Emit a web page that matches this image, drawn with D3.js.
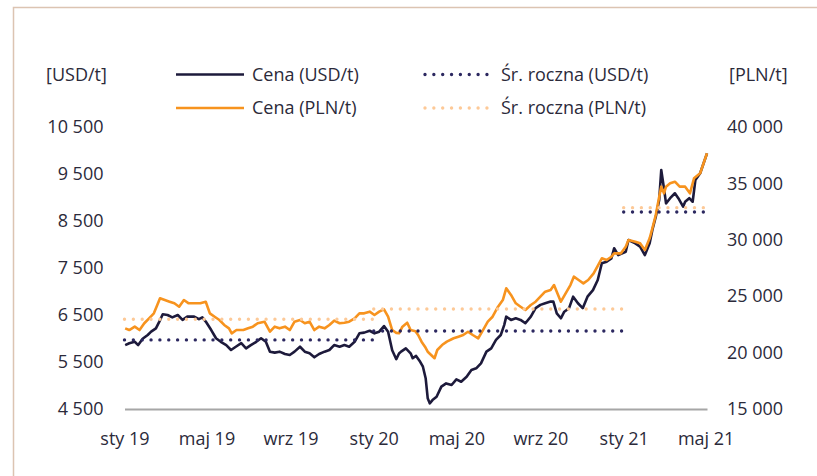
<!DOCTYPE html>
<html>
<head>
<meta charset="utf-8">
<script src="https://cdn.jsdelivr.net/npm/d3@7"></script>
<style>
  body { margin: 0; background: #fff; }
  svg { display: block; font-family: "Open Sans", sans-serif; }
</style>
</head>
<body>
<svg id="chart"></svg>
<script>
// copper price (roughly weekly)
const usdPrice = [
  ["2019-01-02", 5860], ["2019-01-08", 5900], ["2019-01-16", 5930], ["2019-01-21", 5860],
  ["2019-01-28", 6000], ["2019-02-04", 6075], ["2019-02-09", 6145], ["2019-02-16", 6215],
  ["2019-02-21", 6360], ["2019-02-26", 6515], ["2019-03-05", 6500], ["2019-03-12", 6450],
  ["2019-03-20", 6500], ["2019-03-27", 6395], ["2019-04-03", 6465], ["2019-04-13", 6465],
  ["2019-04-20", 6410], ["2019-04-25", 6450], ["2019-04-30", 6360], ["2019-05-08", 6180],
  ["2019-05-15", 6005], ["2019-05-22", 5930], ["2019-05-30", 5860], ["2019-06-06", 5755],
  ["2019-06-13", 5825], ["2019-06-21", 5900], ["2019-06-28", 5790], ["2019-07-05", 5860],
  ["2019-07-13", 5930], ["2019-07-20", 6005], ["2019-07-27", 5930], ["2019-08-02", 5720],
  ["2019-08-09", 5700], ["2019-08-16", 5720], ["2019-08-24", 5670], ["2019-08-31", 5650],
  ["2019-09-07", 5720], ["2019-09-15", 5825], ["2019-09-22", 5720], ["2019-09-29", 5685],
  ["2019-10-06", 5600], ["2019-10-13", 5670], ["2019-10-21", 5720], ["2019-10-28", 5755],
  ["2019-11-04", 5860], ["2019-11-12", 5825], ["2019-11-19", 5860], ["2019-11-26", 5825],
  ["2019-12-04", 5930], ["2019-12-11", 6110], ["2019-12-18", 6125], ["2019-12-26", 6165],
  ["2020-01-02", 6110], ["2020-01-09", 6145], ["2020-01-16", 6265], ["2020-01-22", 6145],
  ["2020-01-28", 5750], ["2020-02-03", 5560], ["2020-02-07", 5680], ["2020-02-10", 5720],
  ["2020-02-17", 5790], ["2020-02-24", 5685], ["2020-02-27", 5580], ["2020-03-03", 5630],
  ["2020-03-09", 5505], ["2020-03-13", 5400], ["2020-03-17", 5155], ["2020-03-20", 4730],
  ["2020-03-23", 4620], ["2020-03-27", 4690], ["2020-04-02", 4760], ["2020-04-09", 4975],
  ["2020-04-16", 5045], ["2020-04-24", 5010], ["2020-05-01", 5130], ["2020-05-08", 5080],
  ["2020-05-16", 5185], ["2020-05-23", 5330], ["2020-05-30", 5365], ["2020-06-06", 5470],
  ["2020-06-14", 5720], ["2020-06-21", 5790], ["2020-06-28", 5970], ["2020-07-05", 6075],
  ["2020-07-10", 6285], ["2020-07-13", 6465], ["2020-07-20", 6395], ["2020-07-27", 6430],
  ["2020-08-03", 6395], ["2020-08-10", 6325], ["2020-08-18", 6465], ["2020-08-25", 6645],
  ["2020-09-01", 6715], ["2020-09-08", 6750], ["2020-09-16", 6785], ["2020-09-20", 6785],
  ["2020-09-25", 6535], ["2020-10-01", 6430], ["2020-10-06", 6570], ["2020-10-13", 6645],
  ["2020-10-19", 6890], ["2020-10-26", 6750], ["2020-11-02", 6645], ["2020-11-09", 6890],
  ["2020-11-17", 7030], ["2020-11-24", 7245], ["2020-11-30", 7600], ["2020-12-07", 7635],
  ["2020-12-14", 7705], ["2020-12-18", 7920], ["2020-12-24", 7775], ["2021-01-04", 7845],
  ["2021-01-08", 8095], ["2021-01-18", 8025], ["2021-01-25", 7955], ["2021-02-01", 7775],
  ["2021-02-08", 8025], ["2021-02-12", 8310], ["2021-02-17", 8590], ["2021-02-22", 8945],
  ["2021-02-25", 9585], ["2021-03-01", 9195], ["2021-03-04", 8875], ["2021-03-10", 8985],
  ["2021-03-17", 9090], ["2021-03-22", 8985], ["2021-03-29", 8805], ["2021-04-01", 8910],
  ["2021-04-07", 8985], ["2021-04-12", 8910], ["2021-04-16", 9375], ["2021-04-23", 9515],
  ["2021-05-03", 9940]
]

const plnPrice = [
  ["2019-01-02", 22150], ["2019-01-08", 22000], ["2019-01-16", 22300], ["2019-01-23", 22000],
  ["2019-01-30", 22600], ["2019-02-06", 23040], ["2019-02-13", 23480], ["2019-02-18", 24220],
  ["2019-02-22", 24810], ["2019-03-01", 24660], ["2019-03-08", 24510], ["2019-03-15", 24370],
  ["2019-03-22", 24070], ["2019-03-29", 24660], ["2019-04-05", 24370], ["2019-04-15", 24370],
  ["2019-04-22", 24370], ["2019-04-30", 24510], ["2019-05-06", 23480], ["2019-05-13", 23180],
  ["2019-05-20", 22890], ["2019-05-27", 22450], ["2019-06-03", 22150], ["2019-06-07", 21710],
  ["2019-06-14", 22000], ["2019-06-24", 22000], ["2019-07-01", 22150], ["2019-07-08", 22300],
  ["2019-07-15", 22600], ["2019-07-25", 22740], ["2019-08-02", 21850], ["2019-08-09", 22300],
  ["2019-08-16", 22150], ["2019-08-24", 22300], ["2019-08-31", 22000], ["2019-09-07", 22740],
  ["2019-09-15", 22890], ["2019-09-22", 22600], ["2019-09-29", 22740], ["2019-10-06", 22000],
  ["2019-10-13", 22300], ["2019-10-21", 22150], ["2019-10-28", 22450], ["2019-11-04", 22830],
  ["2019-11-12", 22600], ["2019-11-19", 22650], ["2019-11-26", 22740], ["2019-12-04", 23040],
  ["2019-12-11", 23480], ["2019-12-18", 23480], ["2019-12-26", 23630], ["2020-01-02", 23330],
  ["2020-01-09", 23630], ["2020-01-16", 23840], ["2020-01-22", 23180], ["2020-01-28", 22000],
  ["2020-02-03", 21750], ["2020-02-07", 21710], ["2020-02-12", 22300], ["2020-02-19", 22650],
  ["2020-02-24", 22000], ["2020-03-02", 21900], ["2020-03-06", 21560], ["2020-03-11", 20970],
  ["2020-03-16", 20520], ["2020-03-20", 20080], ["2020-03-25", 19790], ["2020-03-30", 19500],
  ["2020-04-03", 20230], ["2020-04-10", 20670], ["2020-04-17", 20970], ["2020-04-27", 21270],
  ["2020-05-04", 21410], ["2020-05-11", 21560], ["2020-05-18", 21850], ["2020-05-25", 21560],
  ["2020-06-02", 21270], ["2020-06-09", 22000], ["2020-06-16", 22740], ["2020-06-23", 23180],
  ["2020-07-01", 24070], ["2020-07-08", 24660], ["2020-07-13", 25700], ["2020-07-20", 25110],
  ["2020-07-27", 24370], ["2020-08-03", 24070], ["2020-08-10", 23780], ["2020-08-18", 24220],
  ["2020-08-25", 24510], ["2020-09-01", 24960], ["2020-09-08", 25400], ["2020-09-16", 25550],
  ["2020-09-21", 25990], ["2020-09-25", 25400], ["2020-10-01", 24510], ["2020-10-08", 25260],
  ["2020-10-15", 25990], ["2020-10-20", 26730], ["2020-10-27", 26440], ["2020-11-03", 26140],
  ["2020-11-10", 26440], ["2020-11-18", 27030], ["2020-11-30", 28360], ["2020-12-07", 28210],
  ["2020-12-14", 28500], ["2020-12-18", 28800], ["2020-12-28", 28800], ["2021-01-04", 29390],
  ["2021-01-08", 29980], ["2021-01-18", 29830], ["2021-01-25", 29690], ["2021-02-01", 29100],
  ["2021-02-08", 30130], ["2021-02-12", 31020], ["2021-02-17", 32200], ["2021-02-22", 33820],
  ["2021-02-25", 34710], ["2021-03-01", 34120], ["2021-03-04", 34710], ["2021-03-10", 35010],
  ["2021-03-17", 35150], ["2021-03-24", 34710], ["2021-04-01", 34710], ["2021-04-08", 34120],
  ["2021-04-14", 35450], ["2021-04-23", 35900], ["2021-05-03", 37670]
]

// yearly averages
const avgPeriods = [["2019-01-01", "2019-12-31"], ["2020-01-01", "2020-12-31"], ["2021-01-01", "2021-05-03"]]
const usdAvg = [5970, 6160, 8690]
const plnAvg = [22950, 23870, 32850]

const xTickDates = ["2019-01-01", "2019-05-01", "2019-09-01", "2020-01-01", "2020-05-01", "2020-09-01", "2021-01-01", "2021-05-01"]
const xTickLabels = ["sty 19", "maj 19", "wrz 19", "sty 20", "maj 20", "wrz 20", "sty 21", "maj 21"]
const usdTicks = [4500, 5500, 6500, 7500, 8500, 9500, 10500]
const plnTicks = [15000, 20000, 25000, 30000, 35000, 40000]

const legendLabels = ["Cena (USD/t)", "Cena (PLN/t)", "Śr. roczna (USD/t)", "Śr. roczna (PLN/t)"]

const navy = "#1d1a3b"
const orange = "#f7931e"
const navyDots = "#2c2860"
const orangeDots = "#fdc997"
const textColor = "#2b2a3a"

const width = 817
const height = 476

const parse = d3.timeParse("%Y-%m-%d")
const fmt = d3.formatLocale({decimal: ",", thousands: " ", grouping: [3], currency: ["", ""]}).format(",d")

const svg = d3.select("svg#chart")
    .attr("viewBox", `0 0 ${width} ${height}`)
    .attr("width", width)
    .attr("height", height)

// frame (only top and left edge are visible)
svg.append("path")
    .attr("d", `M13.5,${height} V7.5 H${width}`)
    .attr("fill", "none")
    .attr("stroke", "#dcc4b2")
    .attr("stroke-width", 1.5)

const x = d3.scaleTime()
    .domain([parse("2019-01-01"), parse("2021-05-03")])
    .range([124.5, 707])

const yUsd = d3.scaleLinear()
    .domain([4500, 10500])
    .range([409, 127])

const yPln = d3.scaleLinear()
    .domain([15000, 40000])
    .range([409, 127])

const styleText = g => g
    .attr("font-family", null)
    .attr("font-size", 18)
    .call(g => g.selectAll("text").attr("fill", textColor))

svg.append("g")
    .attr("transform", "translate(0,409)")
    .call(d3.axisBottom(x)
      .tickValues(xTickDates.map(parse))
      .tickFormat((d, i) => xTickLabels[i])
      .tickSize(0).tickSizeOuter(0).tickPadding(23))
    .call(g => g.select(".domain").attr("stroke", "#a6a6a6").attr("stroke-width", 2))
    .call(styleText)

svg.append("g")
    .attr("transform", "translate(124.5,0)")
    .call(d3.axisLeft(yUsd).tickValues(usdTicks).tickFormat(fmt).tickSize(0).tickPadding(21))
    .call(g => g.select(".domain").remove())
    .call(styleText)

svg.append("g")
    .attr("transform", "translate(707,0)")
    .call(d3.axisRight(yPln).tickValues(plnTicks).tickFormat(fmt).tickSize(0).tickPadding(20))
    .call(g => g.select(".domain").remove())
    .call(styleText)

// unit labels
svg.append("text")
    .attr("x", 46).attr("y", 75).attr("dy", "0.35em")
    .attr("font-size", 18).attr("fill", textColor)
    .text("[USD/t]")

svg.append("text")
    .attr("x", 729).attr("y", 75).attr("dy", "0.35em")
    .attr("font-size", 18).attr("fill", textColor)
    .text("[PLN/t]")

// price lines
const usdLine = d3.line()
    .x(d => x(parse(d[0])))
    .y(d => yUsd(d[1]))

const plnLine = d3.line()
    .x(d => x(parse(d[0])))
    .y(d => yPln(d[1]))

svg.append("path")
    .attr("d", usdLine(usdPrice))
    .attr("fill", "none")
    .attr("stroke", navy)
    .attr("stroke-width", 2.6)
    .attr("stroke-linejoin", "round")

svg.append("path")
    .attr("d", plnLine(plnPrice))
    .attr("fill", "none")
    .attr("stroke", orange)
    .attr("stroke-width", 2.6)
    .attr("stroke-linejoin", "round")

// yearly average, dotted
const dotted = (sel, color) => sel
    .attr("fill", "none")
    .attr("stroke", color)
    .attr("stroke-width", 3.4)
    .attr("stroke-linecap", "round")
    .attr("stroke-dasharray", "0 8.85")

svg.append("g")
  .selectAll("line")
  .data(avgPeriods)
  .join("line")
    .attr("x1", d => x(parse(d[0])))
    .attr("x2", d => x(parse(d[1])))
    .attr("y1", (d, i) => yPln(plnAvg[i]))
    .attr("y2", (d, i) => yPln(plnAvg[i]))
    .call(dotted, orangeDots)

svg.append("g")
  .selectAll("line")
  .data(avgPeriods)
  .join("line")
    .attr("x1", d => x(parse(d[0])))
    .attr("x2", d => x(parse(d[1])))
    .attr("y1", (d, i) => yUsd(usdAvg[i]))
    .attr("y2", (d, i) => yUsd(usdAvg[i]))
    .call(dotted, navyDots)

// legend
const legend = [
  {label: legendLabels[0], color: navy, dots: false, x: 176, y: 74.5},
  {label: legendLabels[1], color: orange, dots: false, x: 176, y: 108},
  {label: legendLabels[2], color: navyDots, dots: true, x: 425, y: 74.5},
  {label: legendLabels[3], color: orangeDots, dots: true, x: 425, y: 108},
]

const item = svg.append("g")
  .selectAll("g")
  .data(legend)
  .join("g")
    .attr("transform", d => `translate(${d.x},${d.y})`)

item.filter(d => !d.dots).append("line")
    .attr("x1", 0).attr("x2", 68)
    .attr("stroke", d => d.color)
    .attr("stroke-width", 2.6)

item.filter(d => d.dots).append("line")
    .attr("x1", 0).attr("x2", 62)
    .each(function(d) { d3.select(this).call(dotted, d.color) })

item.append("text")
    .attr("x", d => d.dots ? 76 : 76)
    .attr("dy", "0.35em")
    .attr("font-size", 18)
    .attr("fill", textColor)
    .text(d => d.label)
</script>
</body>
</html>
